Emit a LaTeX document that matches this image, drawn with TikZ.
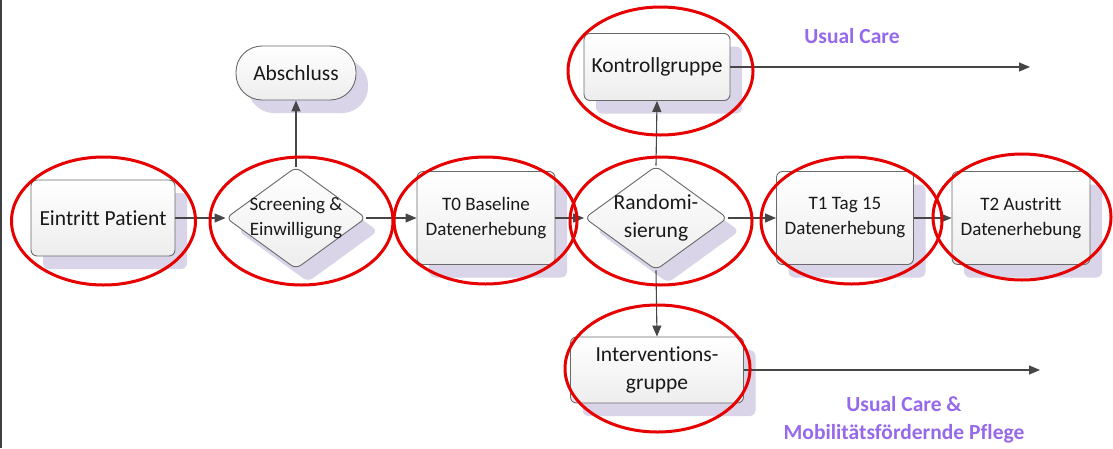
\documentclass[tikz,border=0pt]{standalone}
\usepackage{fontspec}
\setmainfont{Carlito}[Ligatures=NoCommon]
\usetikzlibrary{shapes.geometric,arrows.meta,shadows}
\definecolor{boxline}{RGB}{105,105,105}
\definecolor{arrowc}{RGB}{70,70,70}
\definecolor{shadowc}{RGB}{217,212,231}
\definecolor{ringc}{RGB}{230,0,0}
\definecolor{carec}{RGB}{150,105,235}
\tikzset{
  boxbase/.style={draw=boxline, line width=0.9pt, top color=white, bottom color=black!7,
    drop shadow={shadow xshift=12pt, shadow yshift=-13pt, fill=shadowc, opacity=1},
    align=center, inner sep=0pt, text=black!90},
  procbox/.style={boxbase, rectangle, rounded corners=6pt},
  termbox/.style={boxbase, rectangle, rounded corners=26pt},
  decbox/.style={boxbase, diamond, rounded corners=6pt},
  bigtxt/.style={font=\fontsize{21.5}{28}\selectfont},
  smalltxt/.style={font=\fontsize{19}{25}\selectfont},
  flow/.style={draw=arrowc, line width=1.1pt, -{Triangle[length=11pt,width=9pt]}},
  redring/.style={draw=ringc, line width=3pt},
  caretxt/.style={text=carec, font=\fontsize{21.5}{28}\selectfont\bfseries, align=center}
}
\begin{document}
\begin{tikzpicture}[x=1pt,y=-1pt]
\useasboundingbox (0,0) rectangle (1113,448);
\fill[white] (0,0) rectangle (1113,448);
\draw[line width=2pt, black!75] (1,0) -- (1,448);

% nodes
\node[procbox, bigtxt, minimum width=144pt, minimum height=76pt] (eintritt) at (103,218) {Eintritt Patient};
\node[decbox, minimum width=140pt, minimum height=102pt,
      label={[smalltxt, align=center, text=black!90]center:Screening \&\\Einwilligung}] (screen) at (296,218) {};
\node[procbox, smalltxt, minimum width=138pt, minimum height=93pt] (t0) at (486,218) {T0 Baseline\\Datenerhebung};
\node[decbox, minimum width=143pt, minimum height=104pt,
      label={[bigtxt, align=center, text=black!90]center:Randomi-\\sierung}] (rand) at (656,218) {};
\node[procbox, smalltxt, minimum width=137pt, minimum height=93pt] (t1) at (845,218) {T1 Tag 15\\Datenerhebung};
\node[procbox, smalltxt, minimum width=138pt, minimum height=93pt] (t2) at (1021,218) {T2 Austritt\\Datenerhebung};
\node[termbox, bigtxt, minimum width=120pt, minimum height=54pt] (absch) at (296,73) {Abschluss};
\node[procbox, bigtxt, minimum width=146pt, minimum height=67pt] (kontroll) at (657,67) {Kontrollgruppe};
\node[procbox, bigtxt, minimum width=173pt, minimum height=66pt] (interv) at (657,370) {Interventions-\\gruppe};

\coordinate (kend) at (1030,67);
\coordinate (iend) at (1040,370);

% connectors
\draw[flow] (eintritt.east) -- (screen.west);
\draw[flow] (screen.east) -- (t0.west);
\draw[flow] (t0.east) -- (rand.west);
\draw[flow] (rand.east) -- (t1.west);
\draw[flow] (t1.east) -- (t2.west);
\draw[flow] (screen.north) -- (absch.south);
\draw[flow] (rand.north) -- (kontroll.south);
\draw[flow] (rand.south) -- (interv.north);
\draw[flow] (kontroll.east) -- (kend);
\draw[flow] (interv.east) -- (iend);

% labels
\node[caretxt] (uc1) at (852,36) {Usual Care};
\node[caretxt] (uc2) at (904,420) {Usual Care \&\\Mobilitätsfördernde Pflege};

% red rings
\draw[redring] (103.5,221) ellipse [x radius=92, y radius=64];
\draw[redring] (301.5,221) ellipse [x radius=91.5, y radius=64];
\draw[redring] (485.5,220.5) ellipse [x radius=91.5, y radius=63.5];
\draw[redring] (661,221) ellipse [x radius=91, y radius=64];
\draw[redring] (851.5,220.5) ellipse [x radius=90.5, y radius=63.5];
\draw[redring] (1022,217) ellipse [x radius=89, y radius=63];
\draw[redring] (660.5,71) ellipse [x radius=92.5, y radius=64];
\draw[redring] (657.5,368.5) ellipse [x radius=92.5, y radius=63.5];
\end{tikzpicture}
\end{document}
